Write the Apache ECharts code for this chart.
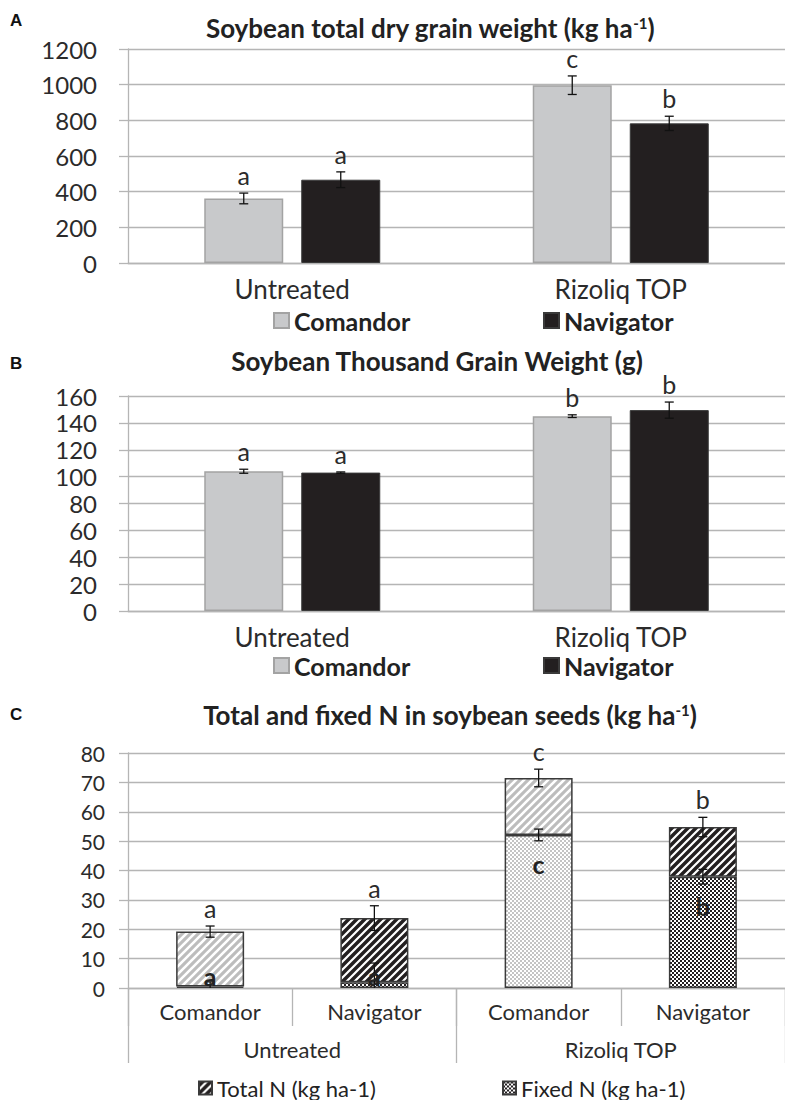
<!DOCTYPE html>
<html><head><meta charset="utf-8">
<script src="https://cdn.jsdelivr.net/npm/echarts@6/dist/echarts.min.js"></script>
<style>html,body{margin:0;padding:0;background:#fff}#c{width:785px;height:1100px}</style>
</head><body><div id="c"></div>
<script>
// ---------- data ----------
const groups = ['Untreated', 'Rizoliq TOP'];
// Panel A: total dry grain weight (kg/ha)
const yieldComandor = [362, 997];
const yieldComandorErr = [30, 52];
const yieldNavigator = [467, 783];
const yieldNavigatorErr = [44, 40];
const yieldLetComandor = ['a', 'c'];
const yieldLetNavigator = ['a', 'b'];
const yieldTicks = [0, 1200, 200];
// Panel B: thousand grain weight (g)
const tgwComandor = [104, 145];
const tgwComandorErr = [1.5, 1];
const tgwNavigator = [103, 149.5];
const tgwNavigatorErr = [0.5, 6];
const tgwLetComandor = ['a', 'b'];
const tgwLetNavigator = ['a', 'b'];
const tgwTicks = [0, 160, 20];
// Panel C: total and fixed N (kg/ha)
const nCategories = ['Comandor', 'Navigator', 'Comandor', 'Navigator'];
const totalN = [19.2, 23.8, 71.5, 54.8];
const totalNErr = [1.9, 4.2, 3, 3.3];
const fixedN = [0.5, 2, 52.1, 37.9];
const fixedNErr = [1.6, 6.5, 2, 2.5];
const totalLetters = ['a', 'a', 'c', 'b'];
const fixedLetters = ['a', 'a', 'c', 'b'];
const nTicks = [0, 80, 10];

// ---------- style ----------
const FONT = 'Lato';
const GL = '#b5b5b5';
const TXT = '#2b2b2b';
const GRAY = '#c8c9cb', GRAY_B = '#a3a3a3';
const BLACK = '#231f20', BLACK_B = '#3a3a3a';

function stripe(bg, fg, lw) {
  const c = document.createElement('canvas'); c.width = 8; c.height = 8;
  const g = c.getContext('2d');
  g.fillStyle = bg; g.fillRect(0, 0, 8, 8);
  g.strokeStyle = fg; g.lineWidth = lw;
  g.beginPath();
  g.moveTo(-2, 10); g.lineTo(10, -2);
  g.moveTo(-2, 2); g.lineTo(2, -2);
  g.moveTo(6, 10); g.lineTo(10, 6);
  g.stroke();
  return { image: c, repeat: 'repeat' };
}
function checker(bg, fg, s) {
  const c = document.createElement('canvas'); c.width = 2 * s; c.height = 2 * s;
  const g = c.getContext('2d');
  g.fillStyle = bg; g.fillRect(0, 0, 2 * s, 2 * s);
  g.fillStyle = fg; g.fillRect(0, 0, s, s); g.fillRect(s, s, s, s);
  return { image: c, repeat: 'repeat' };
}
const hatchLight = stripe('#bdbdbd', '#ffffff', 2.6);
const hatchDark = stripe('#231f20', '#ffffff', 2.2);
const checkLight = checker('#ffffff', '#c4c4c4', 2);
const checkDark = checker('#ffffff', '#231f20', 2);

const chart = echarts.init(document.getElementById('c'), null, { renderer: 'svg', width: 785, height: 1100 });

const BW = 79, GAP = 18, OFF = (BW + GAP) / 2;

function errSeries(vals, errs, letters, dx, ai, letterY, bold, fs) {
  return {
    type: 'custom', xAxisIndex: ai, yAxisIndex: ai, z: 10, silent: true,
    data: vals.map((v, i) => [i, v, errs[i]]),
    renderItem: function (params, api) {
      const i = api.value(0), v = api.value(1), e = api.value(2);
      const p = api.coord([i, v]);
      const base = api.coord([i, 0]);
      const t = api.coord([i, v + e]);
      const lowV = v - e;
      const b = api.coord([i, Math.max(lowV, 0)]);
      const x = p[0] + dx;
      const st = { stroke: '#111', lineWidth: 1.3 };
      const ch = [
        { type: 'line', shape: { x1: x, y1: t[1], x2: x, y2: b[1] }, style: st },
        { type: 'line', shape: { x1: x - 4.5, y1: t[1], x2: x + 4.5, y2: t[1] }, style: st }
      ];
      if (lowV >= 0) ch.push({ type: 'line', shape: { x1: x - 4.5, y1: b[1], x2: x + 4.5, y2: b[1] }, style: st });
      ch.push({
        type: 'text', z2: 20,
        style: {
          text: letters[params.dataIndex], x: x, y: letterY(p[1], t[1], base[1]),
          align: 'center', verticalAlign: 'middle',
          fontFamily: FONT, fontSize: fs, fontWeight: bold ? 'bold' : 'normal', fill: bold ? '#222' : TXT
        }
      });
      return { type: 'group', children: ch };
    }
  };
}
const above = (py, ty, by) => ty - 18;
const inside = (py, ty, by) => Math.min(py + 29, by - 12);

function yAxis(gi, ticks, fs, margin) {
  return {
    gridIndex: gi, type: 'value', min: ticks[0], max: ticks[1], interval: ticks[2],
    axisLine: { show: true, lineStyle: { color: GL, width: 1.3 } },
    axisTick: { show: true, length: 9, lineStyle: { color: GL, width: 1.3 } },
    splitLine: { lineStyle: { color: GL, width: 1.3 } },
    axisLabel: { fontSize: fs, color: TXT, margin: margin, fontFamily: FONT, formatter: v => String(v) }
  };
}
function xAxisGroups(gi) {
  return {
    gridIndex: gi, type: 'category', data: groups,
    axisTick: { show: false },
    axisLine: { lineStyle: { color: GL, width: 1.3 } },
    axisLabel: { fontSize: 26, lineHeight: 26, color: TXT, margin: 13, fontFamily: FONT }
  };
}
function titleText(x, y, main, tail, sup) {
  const txt = sup ? '{t|' + main + '}{s|' + sup + '}{t|' + tail + '}' : '{t|' + main + '}';
  return {
    type: 'text', x: x, y: y,
    style: {
      text: txt, align: 'center', verticalAlign: 'middle',
      rich: {
        t: { fontFamily: FONT, fontSize: 26, fontWeight: 'bold', fill: '#222' },
        s: { fontFamily: FONT, fontSize: 15, fontWeight: 'bold', fill: '#222', verticalAlign: 'top' }
      }
    }
  };
}
function panelLetter(x, y, s) {
  return { type: 'text', x: x, y: y, style: { text: s, fontFamily: 'Liberation Sans', fontSize: 17, fontWeight: 'bold', fill: '#111', align: 'left', verticalAlign: 'middle' } };
}
function legendItem(name, left, top, fs, bold, iw) {
  return {
    data: [name], left: left, top: top, padding: 0, itemWidth: iw, itemHeight: iw, icon: 'rect',
    selectedMode: false,
    textStyle: { fontFamily: FONT, fontSize: fs, lineHeight: fs, fontWeight: bold ? 'bold' : 'normal', color: '#222' }
  };
}

const option = {
  animation: false,
  textStyle: { fontFamily: FONT },
  grid: [
    { left: 128, right: -10, top: 49, height: 214 },
    { left: 128, right: -10, top: 396, height: 215 },
    { left: 128, right: -10, top: 753, height: 235 }
  ],
  xAxis: [
    xAxisGroups(0),
    xAxisGroups(1),
    {
      gridIndex: 2, type: 'category', position: 'bottom', data: nCategories.map((_, i) => 'k' + i),
      axisLine: { lineStyle: { color: GL, width: 1.3 } },
      axisTick: { show: true, interval: 0, length: 38, lineStyle: { color: GL, width: 1.3 } },
      axisLabel: { fontSize: 22, color: TXT, margin: 12, fontFamily: FONT, interval: 0, formatter: (v, i) => nCategories[i] }
    },
    {
      gridIndex: 2, type: 'category', position: 'bottom', data: groups,
      axisLine: { show: false },
      axisTick: { show: true, interval: 0, length: 75, lineStyle: { color: GL, width: 1.3 } },
      axisLabel: { fontSize: 22, color: TXT, margin: 50, fontFamily: FONT, interval: 0 }
    }
  ],
  yAxis: [
    yAxis(0, yieldTicks, 24, 31),
    yAxis(1, tgwTicks, 24, 31),
    yAxis(2, nTicks, 21, 23)
  ],
  legend: [
    legendItem('Comandor', 273, 308, 25, true, 15),
    legendItem('Navigator', 543, 308, 25, true, 15),
    legendItem('Comandor', 273, 653, 25, true, 15),
    legendItem('Navigator', 543, 653, 25, true, 15),
    legendItem('Total N (kg ha-1)', 198, 1077, 22, false, 13),
    legendItem('Fixed N (kg ha-1)', 502, 1077, 22, false, 13)
  ],
  graphic: [
    panelLetter(10, 20, 'A'),
    titleText(430, 28, 'Soybean total dry grain weight (kg ha', ')', '-1'),
    panelLetter(10, 363, 'B'),
    titleText(437, 361, 'Soybean Thousand Grain Weight (g)'),
    panelLetter(10, 714, 'C'),
    titleText(450, 715, 'Total and fixed N in soybean seeds (kg ha', ')', '-1')
  ],
  series: [
    { name: 'Comandor', type: 'bar', xAxisIndex: 0, yAxisIndex: 0, data: yieldComandor, barWidth: BW, barGap: (GAP / BW * 100).toFixed(1) + '%',
      itemStyle: { color: GRAY, borderColor: GRAY_B, borderWidth: 1.5 } },
    { name: 'Navigator', type: 'bar', xAxisIndex: 0, yAxisIndex: 0, data: yieldNavigator, barWidth: BW,
      itemStyle: { color: BLACK, borderColor: BLACK_B, borderWidth: 1 } },
    errSeries(yieldComandor, yieldComandorErr, yieldLetComandor, -OFF, 0, above, false, 25),
    errSeries(yieldNavigator, yieldNavigatorErr, yieldLetNavigator, OFF, 0, above, false, 25),

    { name: 'Comandor', type: 'bar', xAxisIndex: 1, yAxisIndex: 1, data: tgwComandor, barWidth: BW, barGap: (GAP / BW * 100).toFixed(1) + '%',
      itemStyle: { color: GRAY, borderColor: GRAY_B, borderWidth: 1.5 } },
    { name: 'Navigator', type: 'bar', xAxisIndex: 1, yAxisIndex: 1, data: tgwNavigator, barWidth: BW,
      itemStyle: { color: BLACK, borderColor: BLACK_B, borderWidth: 1 } },
    errSeries(tgwComandor, tgwComandorErr, tgwLetComandor, -OFF, 1, above, false, 25),
    errSeries(tgwNavigator, tgwNavigatorErr, tgwLetNavigator, OFF, 1, above, false, 25),

    { name: 'Fixed N (kg ha-1)', type: 'bar', stack: 'n', xAxisIndex: 2, yAxisIndex: 2, barWidth: 68,
      itemStyle: { color: checkDark, borderColor: '#3a3a3a', borderWidth: 1.5 },
      data: fixedN.map((v, i) => ({ value: v, itemStyle: { color: nCategories[i] === 'Comandor' ? checkLight : checkDark } })) },
    { name: 'Total N (kg ha-1)', type: 'bar', stack: 'n', xAxisIndex: 2, yAxisIndex: 2, barWidth: 68,
      itemStyle: { color: hatchDark, borderColor: '#3a3a3a', borderWidth: 1.5 },
      data: totalN.map((v, i) => ({ value: +(v - fixedN[i]).toFixed(2), itemStyle: { color: nCategories[i] === 'Comandor' ? hatchLight : hatchDark } })) },
    errSeries(totalN, totalNErr, totalLetters, 0, 2, above, false, 25),
    errSeries(fixedN, fixedNErr, fixedLetters, 0, 2, inside, true, 25)
  ]
};
chart.setOption(option);
</script></body></html>
